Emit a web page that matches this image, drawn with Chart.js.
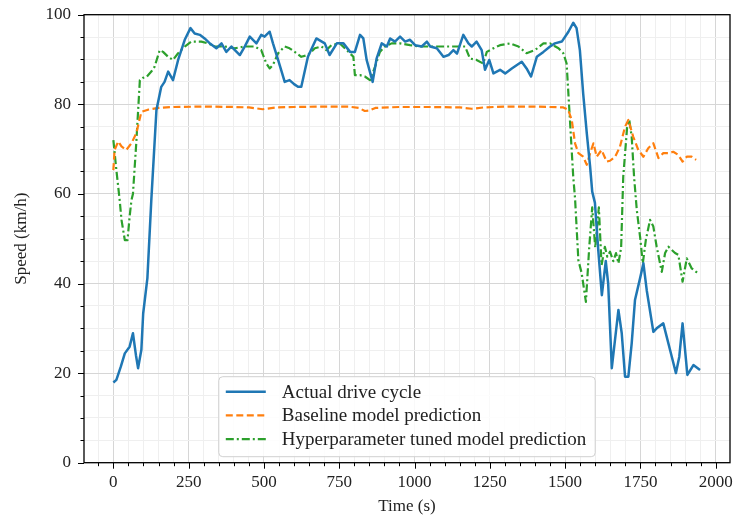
<!DOCTYPE html>
<html>
<head>
<meta charset="utf-8">
<script src="https://cdn.jsdelivr.net/npm/chart.js@4.4.1/dist/chart.umd.min.js"></script>
<style>
    body { margin: 0; background: #fff; }
    #wrap { width: 734px; height: 518px; }
</style>
</head>
<body>
<div id="wrap"><canvas id="chart" width="734" height="518"></canvas></div>
<script>
// Data (time in s, speed in km/h)
const actualTime = [0, 10, 25, 38, 54, 65, 75, 82, 93, 99, 113, 126, 143, 159, 170, 182, 198, 215, 237, 256,
    270, 287, 303, 322, 342, 359, 375, 392, 420, 437, 453, 475, 491, 502, 519, 530, 547, 569, 585, 600,
    613, 624, 646, 674, 702, 718, 742, 764, 786, 802, 819, 830, 841, 861, 874, 891, 908, 919, 935, 952,
    969, 985, 1002, 1024, 1041, 1052, 1074, 1096, 1113, 1129, 1141, 1162, 1179, 1190, 1206, 1223, 1234, 1248, 1262, 1284,
    1301, 1323, 1356, 1372, 1387, 1406, 1428, 1450, 1466, 1489, 1511, 1527, 1538, 1549, 1560, 1572, 1583, 1590, 1599, 1610,
    1622, 1635, 1643, 1655, 1677, 1688, 1699, 1710, 1721, 1732, 1749, 1760, 1771, 1793, 1804, 1826, 1837, 1854, 1868, 1879,
    1890, 1906, 1926, 1948];
const actualSpeed = [17.9, 18.5, 21.5, 24.4, 25.9, 28.9, 24, 21.1, 25.2, 33.3, 41.2, 58.6, 78.7, 83.9, 85, 87.3, 85.4, 89.9, 94.4, 97,
    95.8, 95.5, 94.7, 93.5, 92.5, 93.6, 91.7, 92.9, 91, 93, 95.1, 93.6, 95.5, 95.1, 96.2, 93.6, 89.9, 85, 85.4, 84.5,
    83.9, 83.9, 90.6, 94.7, 93.6, 91, 93.6, 93.6, 91.7, 91.7, 95.5, 94.7, 89.9, 85, 90.2, 93.6, 92.9, 94.7, 94, 95.1,
    94, 94.4, 93.2, 92.9, 94, 92.9, 92.5, 90.6, 91, 92.1, 91.3, 95.5, 93.6, 92.9, 94, 92.1, 87.7, 89.9, 86.9, 87.7,
    86.9, 88, 89.5, 88, 86.2, 90.6, 91.7, 92.9, 93.6, 94, 96.2, 98.2, 97, 92.1, 82.4, 73.5, 66.1, 60.5, 58, 47.5,
    37.4, 45, 40, 21.1, 34.1, 28.9, 19.2, 19.2, 26.6, 36.3, 41.2, 44.5, 38.5, 29.2, 30, 31.1, 28.2, 23.7, 20, 23.6,
    31.1, 19.6, 21.8, 20.7];

const baselineTime = [0, 4, 16, 27, 43, 60, 76, 93, 115, 150, 200, 300, 400, 450, 496, 540, 600, 700, 780, 815,
    835, 850, 870, 950, 1050, 1150, 1190, 1230, 1300, 1400, 1494, 1510, 1522, 1533, 1544, 1560, 1572, 1583, 1594, 1605,
    1621, 1638, 1649, 1666, 1682, 1699, 1710, 1726, 1743, 1760, 1776, 1793, 1810, 1826, 1843, 1859, 1876, 1890, 1904, 1920,
    1935];
const baselineSpeed = [65.3, 69.8, 71.7, 70.6, 69.8, 71.3, 73.5, 78.3, 78.8, 79.2, 79.4, 79.5, 79.4, 79.3, 78.9, 79.3, 79.4, 79.5, 79.5, 79.2,
    78.5, 78.6, 79.2, 79.4, 79.4, 79.3, 79.0, 79.3, 79.5, 79.5, 79.3, 78.8, 76.5, 71.3, 69.1, 68.3, 66.5, 69.1, 71.3, 68.3,
    69.8, 67.2, 67.4, 68.3, 70.5, 75, 76.5, 72.8, 69.8, 68.3, 70.2, 71.3, 68, 69.1, 69.1, 69.4, 68.7, 67.2, 68.3, 68.3,
    67.6];

const tunedTime = [0, 10, 21, 27, 38, 47, 54, 60, 65, 76, 88, 98, 110, 126, 137, 154, 165, 182, 198, 215,
    237, 259, 292, 314, 337, 370, 403, 436, 469, 491, 508, 519, 530, 547, 569, 585, 602, 624, 646, 669,
    691, 707, 724, 752, 775, 797, 802, 819, 835, 852, 869, 885, 902, 924, 952, 985, 1018, 1052, 1085, 1113,
    1141, 1168, 1184, 1206, 1228, 1240, 1262, 1284, 1317, 1345, 1372, 1400, 1428, 1450, 1478, 1494, 1505, 1516, 1527, 1533,
    1544, 1555, 1569, 1580, 1590, 1600, 1612, 1621, 1632, 1640, 1649, 1660, 1669, 1677, 1686, 1693, 1706, 1713, 1721, 1729,
    1738, 1749, 1758, 1768, 1782, 1793, 1804, 1821, 1832, 1843, 1854, 1865, 1876, 1890, 1904, 1920, 1935, 1948];
const tunedSpeed = [72, 65.3, 58.6, 54.2, 49.7, 49.7, 54.9, 58.6, 60, 71.3, 85.4, 85.9, 86.1, 87.3, 88.4, 92.1, 91.7, 90.6, 89.9, 91.4,
    92.9, 94, 94, 93.6, 92.9, 92.9, 92.5, 92.9, 92.9, 92.1, 89.1, 88, 88.8, 91.4, 92.9, 92.5, 91.7, 90.6, 91, 92.5,
    92.9, 92.1, 93.2, 93.6, 92.1, 90.6, 86.5, 86.5, 86.2, 85.4, 88.4, 91.7, 92.9, 93.6, 93.6, 93.2, 92.9, 92.9, 92.9, 92.9,
    92.9, 92.9, 90.2, 89.9, 89.1, 91.7, 92.5, 93.2, 93.6, 92.9, 91.4, 92.1, 93.6, 93.6, 92.5, 91.4, 89.1, 76.5, 63.8, 59,
    45.2, 42.3, 35.9, 48, 57, 48, 57, 44.1, 48.2, 46, 47.1, 45, 46.8, 44.5, 48, 63.8, 75, 76.5, 72.8, 63.8,
    56.4, 50.4, 44.5, 49.7, 54.2, 52.7, 48.2, 42.6, 46.8, 48.2, 47.5, 46.8, 46.4, 40.4, 45.6, 43.4, 42.6, 42.3];

const seriesNames = ['Actual drive cycle', 'Baseline model prediction', 'Hyperparameter tuned model prediction'];
const xMajorTicks = [0, 250, 500, 750, 1000, 1250, 1500, 1750, 2000];
const yMajorTicks = [0, 20, 40, 60, 80, 100];
const xMinorStep = 50;
const yMinorStep = 5;

const FONT = "'Liberation Serif', 'Times New Roman', serif";

// pair up time and speed arrays for a linear x axis
function toPoints(times, speeds) {
    return times.map((t, i) => ({ x: t, y: speeds[i] }));
}

// every minor step between the first and last major tick, plus one step before
function minorTicks(major, step, extraBefore) {
    const ticks = [];
    const start = major[0] - (extraBefore ? step : 0);
    for (let v = start; v <= major[major.length - 1]; v += step) {
        ticks.push({ value: v });
    }
    return ticks;
}

// frame, tick marks and the legend box inside the plot
const decorPlugin = {
    id: 'decor',
    afterDraw(chart) {
        const ctx = chart.ctx;
        const a = chart.chartArea;
        const xs = chart.scales.x;
        const ys = chart.scales.y;
        ctx.save();

        // tick marks (matplotlib style, outside)
        ctx.strokeStyle = '#000';
        ctx.lineWidth = 1;
        xs.ticks.forEach(t => {
            const px = Math.round(xs.getPixelForValue(t.value)) + 0.5;
            const len = xMajorTicks.includes(t.value) ? 6 : 3.5;
            ctx.beginPath();
            ctx.moveTo(px, a.bottom);
            ctx.lineTo(px, a.bottom + len);
            ctx.stroke();
        });
        ys.ticks.forEach(t => {
            const py = Math.round(ys.getPixelForValue(t.value)) + 0.5;
            const len = yMajorTicks.includes(t.value) ? 6 : 3.5;
            ctx.beginPath();
            ctx.moveTo(a.left, py);
            ctx.lineTo(a.left - len, py);
            ctx.stroke();
        });

        // legend (lower center, inside axes)
        ctx.font = '19px ' + FONT;
        const textW = Math.max(...seriesNames.map(n => ctx.measureText(n).width));
        const boxW = 7 + 40 + 16 + textW + 9;
        const boxH = 80;
        const bx = (a.left + a.right) / 2 - boxW / 2;
        const by = a.bottom - 6 - boxH;
        ctx.beginPath();
        ctx.roundRect(bx, by, boxW, boxH, 4);
        ctx.fillStyle = 'rgba(255,255,255,0.85)';
        ctx.fill();
        ctx.strokeStyle = '#d0d0d0';
        ctx.lineWidth = 1;
        ctx.stroke();
        chart.data.datasets.forEach((ds, i) => {
            const ly = by + 15 + i * 23.7;
            ctx.beginPath();
            ctx.setLineDash(ds.borderDash || []);
            ctx.strokeStyle = ds.borderColor;
            ctx.lineWidth = ds.borderWidth;
            ctx.moveTo(bx + 7, ly);
            ctx.lineTo(bx + 47, ly);
            ctx.stroke();
            ctx.setLineDash([]);
            ctx.fillStyle = '#222';
            ctx.textBaseline = 'middle';
            ctx.textAlign = 'left';
            ctx.fillText(ds.label, bx + 63, ly + 1);
        });

        // axes frame
        ctx.strokeStyle = '#000';
        ctx.lineWidth = 1.3;
        ctx.strokeRect(a.left, a.top, a.right - a.left, a.bottom - a.top);
        ctx.restore();
    }
};

function gridColor(major) {
    return c => major.includes(c.tick.value) ? '#d6d6d6' : '#efefef';
}

function createChart() {
    const ctx = document.getElementById('chart').getContext('2d');
    new Chart(ctx, {
        type: 'line',
        data: {
            datasets: [{
                label: seriesNames[0],
                data: toPoints(actualTime, actualSpeed),
                borderColor: '#1f77b4',
                borderWidth: 2.5,
            }, {
                label: seriesNames[1],
                data: toPoints(baselineTime, baselineSpeed),
                borderColor: '#ff7f0e',
                borderWidth: 2.2,
                borderDash: [7, 3.5],
            }, {
                label: seriesNames[2],
                data: toPoints(tunedTime, tunedSpeed),
                borderColor: '#2ca02c',
                borderWidth: 2.2,
                borderDash: [8, 3, 2, 3],
            }]
        },
        options: {
            responsive: false,
            animation: false,
            elements: {
                point: { radius: 0 },
                line: { tension: 0, fill: false, borderCapStyle: 'butt', borderJoinStyle: 'round' }
            },
            layout: { padding: { top: 14.7, right: 4, left: 0, bottom: 0 } },
            plugins: {
                legend: { display: false },
                tooltip: { enabled: false }
            },
            scales: {
                x: {
                    type: 'linear',
                    min: -97.5,
                    max: 2047.5,
                    afterBuildTicks: scale => { scale.ticks = minorTicks(xMajorTicks, xMinorStep, true); },
                    afterFit: scale => {
                        scale.height = 55.3;
                        // labels near the edges must not shrink the plot area
                        scale.paddingLeft = 0;
                        scale.paddingRight = 0;
                    },
                    ticks: {
                        autoSkip: false,
                        maxRotation: 0,
                        padding: 10,
                        color: '#222',
                        font: { family: FONT, size: 17 },
                        callback: v => xMajorTicks.includes(v) ? String(v) : ''
                    },
                    grid: { color: gridColor(xMajorTicks), lineWidth: 1, drawTicks: false },
                    border: { display: false },
                    title: {
                        display: true,
                        text: 'Time (s)',
                        color: '#222',
                        font: { family: FONT, size: 17 },
                        padding: { top: 0, bottom: 1 }
                    }
                },
                y: {
                    min: 0,
                    max: 100,
                    afterBuildTicks: scale => { scale.ticks = minorTicks(yMajorTicks, yMinorStep, false); },
                    afterFit: scale => {
                        scale.width = 84;
                        scale.paddingTop = 0;
                        scale.paddingBottom = 0;
                    },
                    ticks: {
                        autoSkip: false,
                        padding: 13,
                        color: '#222',
                        font: { family: FONT, size: 17 },
                        callback: v => yMajorTicks.includes(v) ? String(v) : ''
                    },
                    grid: { color: gridColor(yMajorTicks), lineWidth: 1, drawTicks: false },
                    border: { display: false },
                    title: {
                        display: true,
                        text: 'Speed (km/h)',
                        color: '#222',
                        font: { family: FONT, size: 17 },
                        padding: { top: 11, bottom: 0 }
                    }
                }
            }
        },
        plugins: [decorPlugin]
    });
}

createChart();
</script>
</body>
</html>
